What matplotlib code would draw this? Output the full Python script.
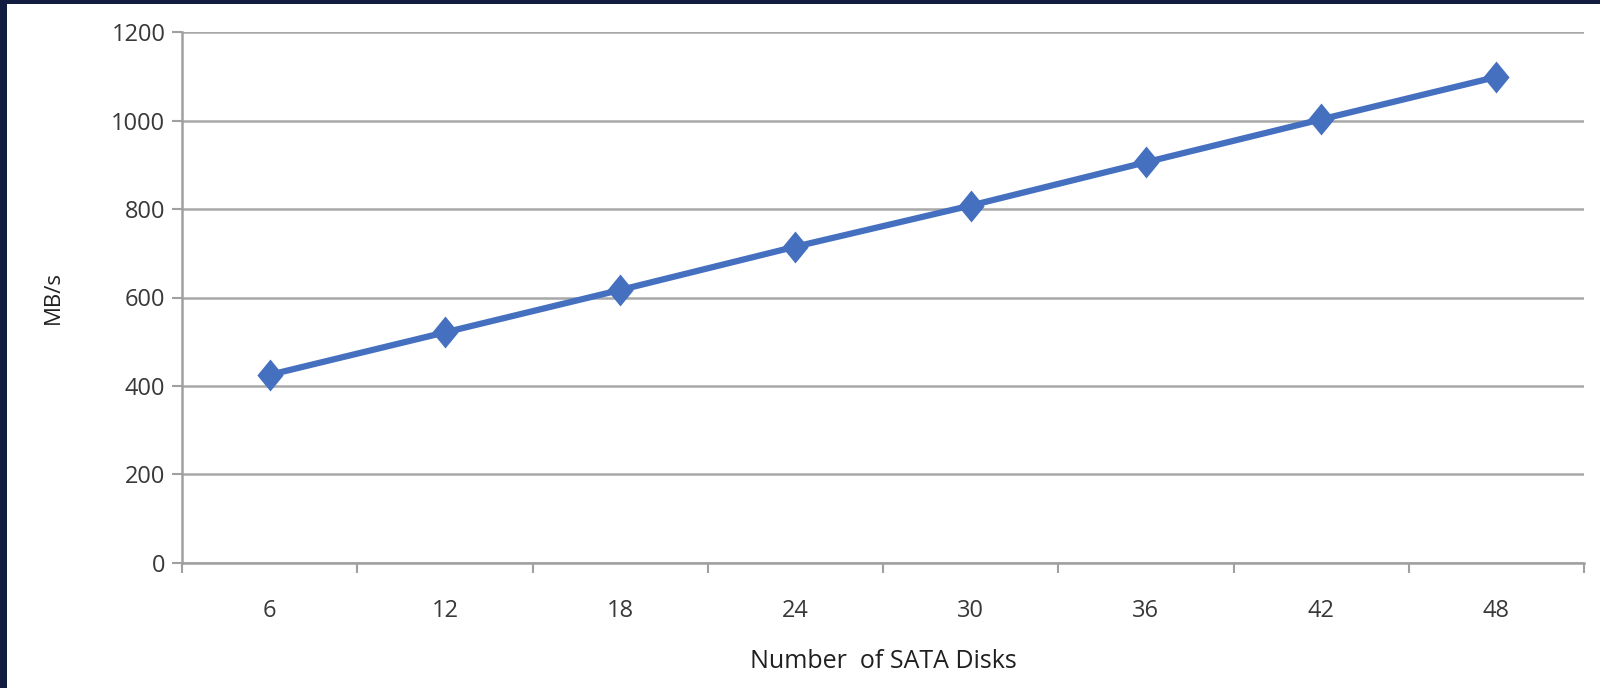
import matplotlib
matplotlib.use("Agg")
import matplotlib.pyplot as plt
from matplotlib.patches import Rectangle
import numpy as np

categories = ["6", "12", "18", "24", "30", "36", "42", "48"]
throughput = [425, 521, 617, 715, 808, 906, 1003, 1099]
y_ticks = [0, 200, 400, 600, 800, 1000, 1200]

plt.rcParams['font.family'] = ['Open Sans', 'DejaVu Sans']

fig = plt.figure(figsize=(16, 6.88), dpi=100)
fig.patch.set_facecolor('#111c40')
# white slide panel
panel = Rectangle((7/1600, 0), 1 - 7/1600, 1 - 4/688, transform=fig.transFigure,
                  facecolor='white', edgecolor='none', zorder=-10)
fig.patches.append(panel)

ax = fig.add_axes([182/1600, 1 - 562.7/688, (1584 - 182)/1600, (562.7 - 32.3)/688])
ax.set_zorder(5)
ax.patch.set_alpha(0)

x = np.arange(len(categories))
diamond = [(0, 1), (0.82, 0), (0, -1), (-0.82, 0), (0, 1)]
ax.plot(x, throughput, color='#4570c0', linewidth=4.5, marker=diamond,
        markersize=23, markeredgewidth=0, zorder=3, solid_capstyle='round')

ax.set_ylim(0, 1200)
ax.set_xlim(-0.5, len(categories) - 0.5)
ax.set_yticks(y_ticks)
ax.set_yticklabels([str(v) for v in y_ticks])
ax.yaxis.grid(True, color='#a8a8a8', linewidth=1.8)
ax.set_axisbelow(True)

ax.set_xticks(np.arange(len(categories) + 1) - 0.5)
ax.set_xticklabels([])
ax.set_xticks(x, minor=True)
ax.set_xticklabels(categories, minor=True)

for s in ['top', 'right']:
    ax.spines[s].set_visible(False)
for s in ['left', 'bottom']:
    ax.spines[s].set_color('#a0a0a0')
    ax.spines[s].set_linewidth(1.8)

ax.tick_params(axis='y', which='major', length=7, width=1.5, color='#a0a0a0',
               labelsize=17, labelcolor='#383838', pad=5)
ax.tick_params(axis='x', which='major', length=7, width=1.5, color='#a0a0a0')
ax.tick_params(axis='x', which='minor', length=0, labelsize=17, labelcolor='#383838', pad=26)

ax.set_ylabel("MB/s", fontsize=16, color='#202020', labelpad=34)
ax.set_xlabel("Number  of SATA Disks", fontsize=18, color='#202020', labelpad=19)

fig.savefig("out.png", dpi=100, facecolor=fig.get_facecolor())
